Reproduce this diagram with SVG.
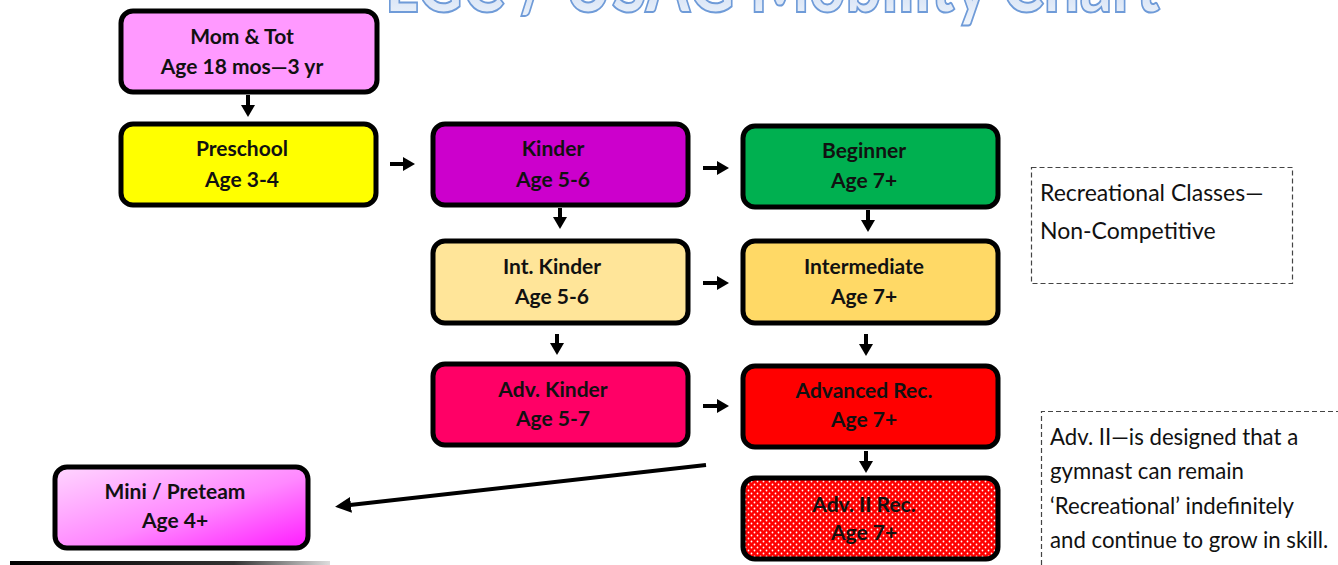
<svg xmlns="http://www.w3.org/2000/svg" width="1338" height="565" viewBox="0 0 1338 565">
<style>
.box{stroke:#000;stroke-width:5}
.lbl{font-family:Lato,"Open Sans","Liberation Sans",sans-serif;font-weight:700;font-size:21px;fill:#111;text-anchor:middle}
.note{font-family:Lato,"Open Sans","Liberation Sans",sans-serif;font-size:23px;fill:#111}
.note2{font-family:Lato,"Open Sans","Liberation Sans",sans-serif;font-size:22.2px;fill:#111}
.dash{fill:none;stroke:#444;stroke-width:1.2;stroke-dasharray:5,3}
.conn{stroke:#000;stroke-width:4;fill:none;marker-end:url(#ah)}
</style>
<defs>
<marker id="ah" markerUnits="userSpaceOnUse" markerWidth="14" markerHeight="14" refX="1" refY="7" orient="auto"><path d="M0,0 L12,7 L0,14 z" fill="#000"/></marker>
<marker id="ah2" markerUnits="userSpaceOnUse" markerWidth="18" markerHeight="16" refX="1" refY="8" orient="auto"><path d="M0,0 L16,8 L0,16 z" fill="#000"/></marker>
<linearGradient id="mini" x1="0" y1="0" x2="1" y2="1"><stop offset="0" stop-color="#ffd6ff"/><stop offset="0.55" stop-color="#ff88ff"/><stop offset="1" stop-color="#ff1aff"/></linearGradient>
<linearGradient id="title" x1="0" y1="0" x2="0" y2="1"><stop offset="0" stop-color="#a9c2e8"/><stop offset="1" stop-color="#f4f8fd"/></linearGradient>
<linearGradient id="rule" x1="0" y1="0" x2="1" y2="0"><stop offset="0" stop-color="#000"/><stop offset="0.7" stop-color="#333"/><stop offset="1" stop-color="#ddd"/></linearGradient>
<pattern id="dots" patternUnits="userSpaceOnUse" width="6" height="6"><rect width="6" height="6" fill="#ff0000"/><circle cx="1.5" cy="1.5" r="0.9" fill="#fff"/><circle cx="4.5" cy="4.5" r="0.9" fill="#fff"/></pattern>
</defs>

<text x="385" y="12" font-family="Lato,'Open Sans','Liberation Sans',sans-serif" font-weight="900" font-size="78" fill="url(#title)" stroke="#6f9bd8" stroke-width="2" textLength="775" lengthAdjust="spacingAndGlyphs">LGC / USAG Mobility Chart</text>

<g id="connectors">
<line class="conn" x1="248" y1="95" x2="248" y2="106"/>
<line class="conn" x1="390" y1="164" x2="404" y2="164"/>
<line class="conn" x1="703" y1="168" x2="718" y2="168"/>
<line class="conn" x1="560" y1="208" x2="560" y2="218"/>
<line class="conn" x1="868" y1="210" x2="868" y2="221"/>
<line class="conn" x1="703" y1="283" x2="718" y2="283"/>
<line class="conn" x1="557" y1="334" x2="557" y2="344"/>
<line class="conn" x1="866" y1="334" x2="866" y2="345"/>
<line class="conn" x1="703" y1="406" x2="718" y2="406"/>
<line class="conn" x1="866" y1="451" x2="866" y2="462"/>
<line x1="706" y1="465" x2="350" y2="505" stroke="#000" stroke-width="4" marker-end="url(#ah2)"/>
</g>

<g id="momtot"><rect class="box" x="121" y="11" width="256" height="81" rx="12" fill="#ff99ff"/><text class="lbl" x="242" y="44">Mom &amp; Tot</text><text class="lbl" x="242" y="74">Age 18 mos—3 yr</text></g>
<g id="preschool"><rect class="box" x="121" y="124" width="255" height="81" rx="12" fill="#ffff00"/><text class="lbl" x="242" y="156">Preschool</text><text class="lbl" x="242" y="187">Age 3-4</text></g>
<g id="kinder"><rect class="box" x="433" y="124" width="255" height="81" rx="12" fill="#cc00cc"/><text class="lbl" x="553" y="156">Kinder</text><text class="lbl" x="553" y="187">Age 5-6</text></g>
<g id="beginner"><rect class="box" x="743" y="126" width="255" height="81" rx="12" fill="#00b050"/><text class="lbl" x="864" y="158">Beginner</text><text class="lbl" x="864" y="188">Age 7+</text></g>
<g id="intkinder"><rect class="box" x="433" y="241" width="255" height="82" rx="12" fill="#ffe599"/><text class="lbl" x="552" y="274">Int. Kinder</text><text class="lbl" x="552" y="304">Age 5-6</text></g>
<g id="intermediate"><rect class="box" x="743" y="241" width="255" height="82" rx="12" fill="#ffd966"/><text class="lbl" x="864" y="274">Intermediate</text><text class="lbl" x="864" y="304">Age 7+</text></g>
<g id="advkinder"><rect class="box" x="433" y="364" width="255" height="81" rx="12" fill="#ff0066"/><text class="lbl" x="553" y="397">Adv. Kinder</text><text class="lbl" x="553" y="426">Age 5-7</text></g>
<g id="advrec"><rect class="box" x="743" y="366" width="255" height="81" rx="12" fill="#ff0000"/><text class="lbl" x="864" y="398">Advanced Rec.</text><text class="lbl" x="864" y="427">Age 7+</text></g>
<g id="adv2rec"><rect class="box" x="743" y="478" width="255" height="81" rx="12" fill="url(#dots)"/><text class="lbl" x="864" y="512">Adv. II Rec.</text><text class="lbl" x="864" y="540">Age 7+</text></g>
<g id="mini"><rect class="box" x="55" y="467" width="253" height="81" rx="12" fill="url(#mini)"/><text class="lbl" x="175" y="499">Mini / Preteam</text><text class="lbl" x="175" y="528">Age 4+</text></g>

<rect x="10" y="561" width="320" height="4" fill="url(#rule)"/>

<g id="note1"><rect class="dash" x="1031.5" y="167.5" width="261" height="116"/><text class="note" x="1040" y="201">Recreational Classes—</text><text class="note" x="1040" y="239">Non-Competitive</text></g>
<g id="note2"><path class="dash" d="M1041.5,565 V411.5 H1338"/>
<text class="note2" x="1050" y="445">Adv. II—is designed that a</text>
<text class="note2" x="1050" y="479">gymnast can remain</text>
<text class="note2" x="1050" y="514">‘Recreational’ indefinitely</text>
<text class="note2" x="1050" y="548">and continue to grow in skill.</text></g>
</svg>
